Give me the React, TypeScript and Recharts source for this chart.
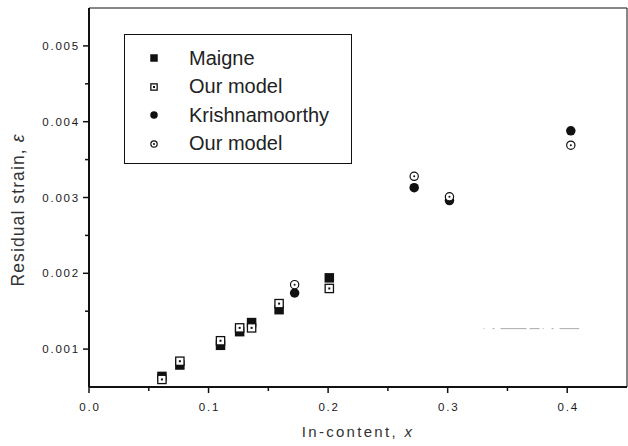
import {
  Legend,
  ReferenceArea,
  ReferenceLine,
  Scatter,
  ScatterChart,
  XAxis,
  YAxis,
} from 'recharts'

// In-content x and residual strain
const maigneX = [0.061, 0.076, 0.11, 0.126, 0.136, 0.159, 0.201]
const maigneY = [0.00064, 0.00079, 0.00105, 0.00123, 0.00135, 0.00152, 0.00194]
const modelSquareY = [0.0006, 0.00084, 0.00111, 0.00128, 0.00128, 0.0016, 0.0018]

const krishX = [0.172, 0.272, 0.3015, 0.403]
const krishY = [0.00174, 0.00313, 0.00296, 0.00388]
const modelCircleY = [0.00185, 0.00328, 0.00301, 0.00369]

const xMajor = [0, 0.1, 0.2, 0.3, 0.4]
const xMinor = [0.05, 0.15, 0.25, 0.35]
const yMajor = [0.001, 0.002, 0.003, 0.004, 0.005]
const yMinor = [0.0015, 0.0025, 0.0035, 0.0045]

const legendNames = ['Maigne', 'Our model', 'Krishnamoorthy', 'Our model']

// faint dash-dot stroke left in the scan
const scanMarkX = [0.33, 0.41]
const scanMarkY = 0.00127

const toPoints = (xs: number[], ys: number[]) => xs.map((x, i) => ({ x, y: ys[i] }))

const FONT = '"Liberation Sans", Arial, sans-serif'

const FilledSquare = ({ cx, cy, s = 9.5 }: any) => (
  <rect x={cx - s / 2} y={cy - s / 2} width={s} height={s} fill='#111' />
)
const OpenSquare = ({ cx, cy, s = 9.5 }: any) => (
  <g>
    <rect x={cx - s / 2 + 0.6} y={cy - s / 2 + 0.6} width={s - 1.2} height={s - 1.2} fill='#fff' stroke='#111' strokeWidth={1.3} />
    <rect x={cx - 1} y={cy - 1} width={2} height={2} fill='#111' />
  </g>
)
const FilledCircle = ({ cx, cy, s = 9.5 }: any) => <circle cx={cx} cy={cy} r={s / 2} fill='#111' />
const OpenCircle = ({ cx, cy, s = 9.5 }: any) => (
  <g>
    <circle cx={cx} cy={cy} r={s / 2 - 0.6} fill='#fff' stroke='#111' strokeWidth={1.2} />
    <circle cx={cx} cy={cy} r={1} fill='#111' />
  </g>
)

const legendShapes = [FilledSquare, OpenSquare, FilledCircle, OpenCircle]

const XTick = ({ x, y, payload }: any) => {
  const major = xMajor.includes(payload.value)
  return (
    <g>
      <line x1={x} x2={x} y1={y} y2={y + (major ? 6 : 4)} stroke='#111' strokeWidth={1.5} />
      {major && (
        <text x={x + 1} y={y + 24} textAnchor='middle' fontSize={11.5} letterSpacing={1.8} fill='#1a1a1a' fontFamily={FONT}>
          {payload.value.toFixed(1)}
        </text>
      )}
    </g>
  )
}

const YTick = ({ x, y, payload }: any) => {
  const major = yMajor.includes(payload.value)
  return (
    <g>
      <line x1={x - (major ? 6 : 4)} x2={x} y1={y} y2={y} stroke='#111' strokeWidth={1.5} />
      {major && (
        <text x={x - 9} y={y} dy='0.35em' textAnchor='end' fontSize={11.5} letterSpacing={1.8} fill='#1a1a1a' fontFamily={FONT}>
          {payload.value.toFixed(3)}
        </text>
      )}
    </g>
  )
}

const renderLegend = () => (
  <div
    style={{
      boxSizing: 'border-box',
      width: '100%',
      height: '100%',
      border: '1.5px solid #111',
      background: '#fff',
      paddingTop: 9,
      fontFamily: FONT,
      fontSize: 20,
      color: '#222',
    }}
  >
    {legendNames.map((name, i) => {
      const Shape = legendShapes[i]
      return (
        <div key={i} style={{ display: 'flex', alignItems: 'center', height: 28.5 }}>
          <svg width={60} height={20} style={{ flex: 'none', marginLeft: 4 }}>
            <Shape cx={25} cy={10} s={7.5} />
          </svg>
          <span>{name}</span>
        </div>
      )
    })}
  </div>
)

export default function App() {
  return (
    <div style={{ position: 'absolute', left: 0, top: 0 }}>
      <ScatterChart width={628} height={446} margin={{ top: 8, right: 1, bottom: 0, left: 0 }}>
        <ReferenceArea x1={0} x2={0.45} y1={0.0005} y2={0.0055} fill='none' stroke='#111' strokeWidth={1} ifOverflow='visible' />
        <XAxis
          type='number'
          dataKey='x'
          domain={[0, 0.45]}
          ticks={[...xMajor, ...xMinor]}
          interval={0}
          allowDataOverflow
          height={59}
          tickSize={0}
          tickMargin={0}
          tickLine={false}
          axisLine={{ stroke: '#111', strokeWidth: 2 }}
          tick={<XTick />}
          label={{
            content: ({ viewBox }: any) => (
              <text x={viewBox.x + viewBox.width / 2} y={viewBox.y + 50} textAnchor='middle' fontSize={15} letterSpacing={2.3} fill='#333' fontFamily={FONT}>
                In-content, <tspan fontStyle='italic'>x</tspan>
              </text>
            ),
          }}
        />
        <YAxis
          type='number'
          dataKey='y'
          domain={[0.0005, 0.0055]}
          ticks={[...yMajor, ...yMinor]}
          interval={0}
          allowDataOverflow
          width={89}
          tickSize={0}
          tickMargin={0}
          tickLine={false}
          axisLine={{ stroke: '#111', strokeWidth: 2 }}
          tick={<YTick />}
          label={{
            content: () => (
              <text x={18} y={210} transform='rotate(-90 18 210)' textAnchor='middle' dy='0.35em' fontSize={17.5} letterSpacing={1.1} fill='#333' fontFamily={FONT}>
                Residual strain, <tspan fontStyle='italic'>ε</tspan>
              </text>
            ),
          }}
        />
        <ReferenceLine
          segment={[{ x: scanMarkX[0], y: scanMarkY }, { x: scanMarkX[1], y: scanMarkY }]}
          stroke='#aaa'
          strokeWidth={1}
          strokeDasharray='1 8 2 6 26 3 10 3'
        />
        <Scatter name='Maigne' data={toPoints(maigneX, maigneY)} shape={<FilledSquare />} isAnimationActive={false} />
        <Scatter name='Krishnamoorthy' data={toPoints(krishX, krishY)} shape={<FilledCircle />} isAnimationActive={false} />
        <Scatter name='Our model' data={toPoints(maigneX, modelSquareY)} shape={<OpenSquare />} isAnimationActive={false} />
        <Scatter name='Our model ' data={toPoints(krishX, modelCircleY)} shape={<OpenCircle />} isAnimationActive={false} />
        <Legend
          layout='horizontal'
          verticalAlign='middle'
          align='center'
          content={renderLegend}
          wrapperStyle={{ left: 124, top: 34, width: 228, height: 130 }}
        />
      </ScatterChart>
    </div>
  )
}
